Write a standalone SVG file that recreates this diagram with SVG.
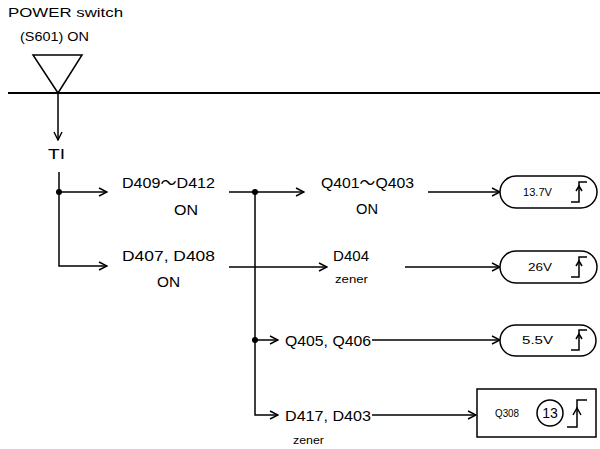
<svg xmlns="http://www.w3.org/2000/svg" width="600" height="449" viewBox="0 0 600 449">
<style>
text{font-family:"Liberation Sans","Noto Sans CJK JP",sans-serif;fill:#000}
.t{font-size:15px}
.s{font-size:11px}
.v{font-size:10px}
.ln{stroke:#000;stroke-width:1.5;fill:none}
.box{stroke:#000;stroke-width:1.5;fill:#fff}
.st{stroke:#000;stroke-width:1.5;fill:none}
</style>
<defs>
<marker id="ah" viewBox="0 0 10 10" refX="9" refY="5" markerWidth="10" markerHeight="10" markerUnits="userSpaceOnUse" orient="auto">
<path d="M1,1 L9,5 L1,9" fill="none" stroke="#000" stroke-width="1.4"/>
</marker>
<g id="step">
<path class="st" d="M-8,10 H0 V-10 H8"/>
<path class="st" d="M-3,-1 L0,-6 L3,-1"/>
</g>
</defs>

<g id="power-switch">
<text x="8" y="17" font-size="13" textLength="115" lengthAdjust="spacingAndGlyphs">POWER switch</text>
<text x="20" y="41" font-size="13" textLength="69" lengthAdjust="spacingAndGlyphs">(S601) ON</text>
<polygon points="33,55 82,55 58,93" fill="none" stroke="#000" stroke-width="1.5"/>
</g>

<g id="connectors">
<line x1="8" y1="93" x2="600" y2="93" stroke="#000" stroke-width="2"/>
<line class="ln" x1="58" y1="93" x2="58" y2="140" marker-end="url(#ah)"/>
<path class="ln" d="M59,172 V266 H107" marker-end="url(#ah)"/>
<line class="ln" x1="59" y1="192" x2="107" y2="192" marker-end="url(#ah)"/>
<circle cx="59" cy="192" r="3"/>
<line class="ln" x1="229" y1="192" x2="304" y2="192" marker-end="url(#ah)"/>
<circle cx="255" cy="192" r="3"/>
<line class="ln" x1="229" y1="267" x2="327" y2="267" marker-end="url(#ah)"/>
<path class="ln" d="M255,192 V415 H278" marker-end="url(#ah)"/>
<line class="ln" x1="255" y1="340" x2="278" y2="340" marker-end="url(#ah)"/>
<circle cx="255" cy="340" r="3"/>
<line class="ln" x1="428" y1="192" x2="500" y2="192" marker-end="url(#ah)"/>
<line class="ln" x1="405" y1="267" x2="500" y2="267" marker-end="url(#ah)"/>
<line class="ln" x1="372" y1="340" x2="500" y2="340" marker-end="url(#ah)"/>
<line class="ln" x1="372" y1="415" x2="476" y2="415" marker-end="url(#ah)"/>
</g>

<g id="t1"><text class="t" x="48" y="159" textLength="17" lengthAdjust="spacingAndGlyphs">TI</text></g>

<g id="d409-d412">
<text class="t" x="122" y="188" textLength="93" lengthAdjust="spacingAndGlyphs">D409〜D412</text>
<text class="t" x="174" y="215" textLength="24" lengthAdjust="spacingAndGlyphs">ON</text>
</g>
<g id="d407-d408">
<text class="t" x="122" y="261" textLength="93" lengthAdjust="spacingAndGlyphs">D407,  D408</text>
<text class="t" x="157" y="287" textLength="23" lengthAdjust="spacingAndGlyphs">ON</text>
</g>
<g id="q401-q403">
<text class="t" x="321" y="188" textLength="93" lengthAdjust="spacingAndGlyphs">Q401〜Q403</text>
<text class="t" x="356" y="214" textLength="22" lengthAdjust="spacingAndGlyphs">ON</text>
</g>
<g id="d404">
<text class="t" x="333" y="261" textLength="36" lengthAdjust="spacingAndGlyphs">D404</text>
<text class="s" x="335" y="283" textLength="33" lengthAdjust="spacingAndGlyphs">zener</text>
</g>
<g id="q405-q406">
<text class="t" x="285" y="346" textLength="86" lengthAdjust="spacingAndGlyphs">Q405, Q406</text>
</g>
<g id="d417-d403">
<text class="t" x="285" y="421" textLength="86" lengthAdjust="spacingAndGlyphs">D417, D403</text>
<text class="s" x="293" y="444" textLength="31" lengthAdjust="spacingAndGlyphs">zener</text>
</g>

<g id="out-13-7v">
<rect class="box" x="500" y="176" width="97" height="32" rx="16"/>
<text class="v" x="523" y="196" textLength="29" lengthAdjust="spacingAndGlyphs">13.7V</text>
<use href="#step" x="579" y="192"/>
</g>
<g id="out-26v">
<rect class="box" x="500" y="251" width="97" height="32" rx="16"/>
<text class="v" x="528" y="271" textLength="24" lengthAdjust="spacingAndGlyphs">26V</text>
<use href="#step" x="579" y="267"/>
</g>
<g id="out-5-5v">
<rect class="box" x="500" y="325" width="96" height="31" rx="15.5"/>
<text class="v" x="522" y="344" textLength="31" lengthAdjust="spacingAndGlyphs">5.5V</text>
<use href="#step" x="579" y="340"/>
</g>
<g id="out-q308">
<rect class="box" x="477" y="389" width="119" height="48"/>
<text x="495" y="417" font-size="10" textLength="24" lengthAdjust="spacingAndGlyphs">Q308</text>
<circle cx="550" cy="413" r="13" fill="none" stroke="#000" stroke-width="1.5"/>
<text x="550" y="418" font-size="14" text-anchor="middle">13</text>
<path class="st" d="M567,427 H577 V400 H587"/>
<path class="st" d="M573,415 L577,408 L581,415"/>
</g>
</svg>
